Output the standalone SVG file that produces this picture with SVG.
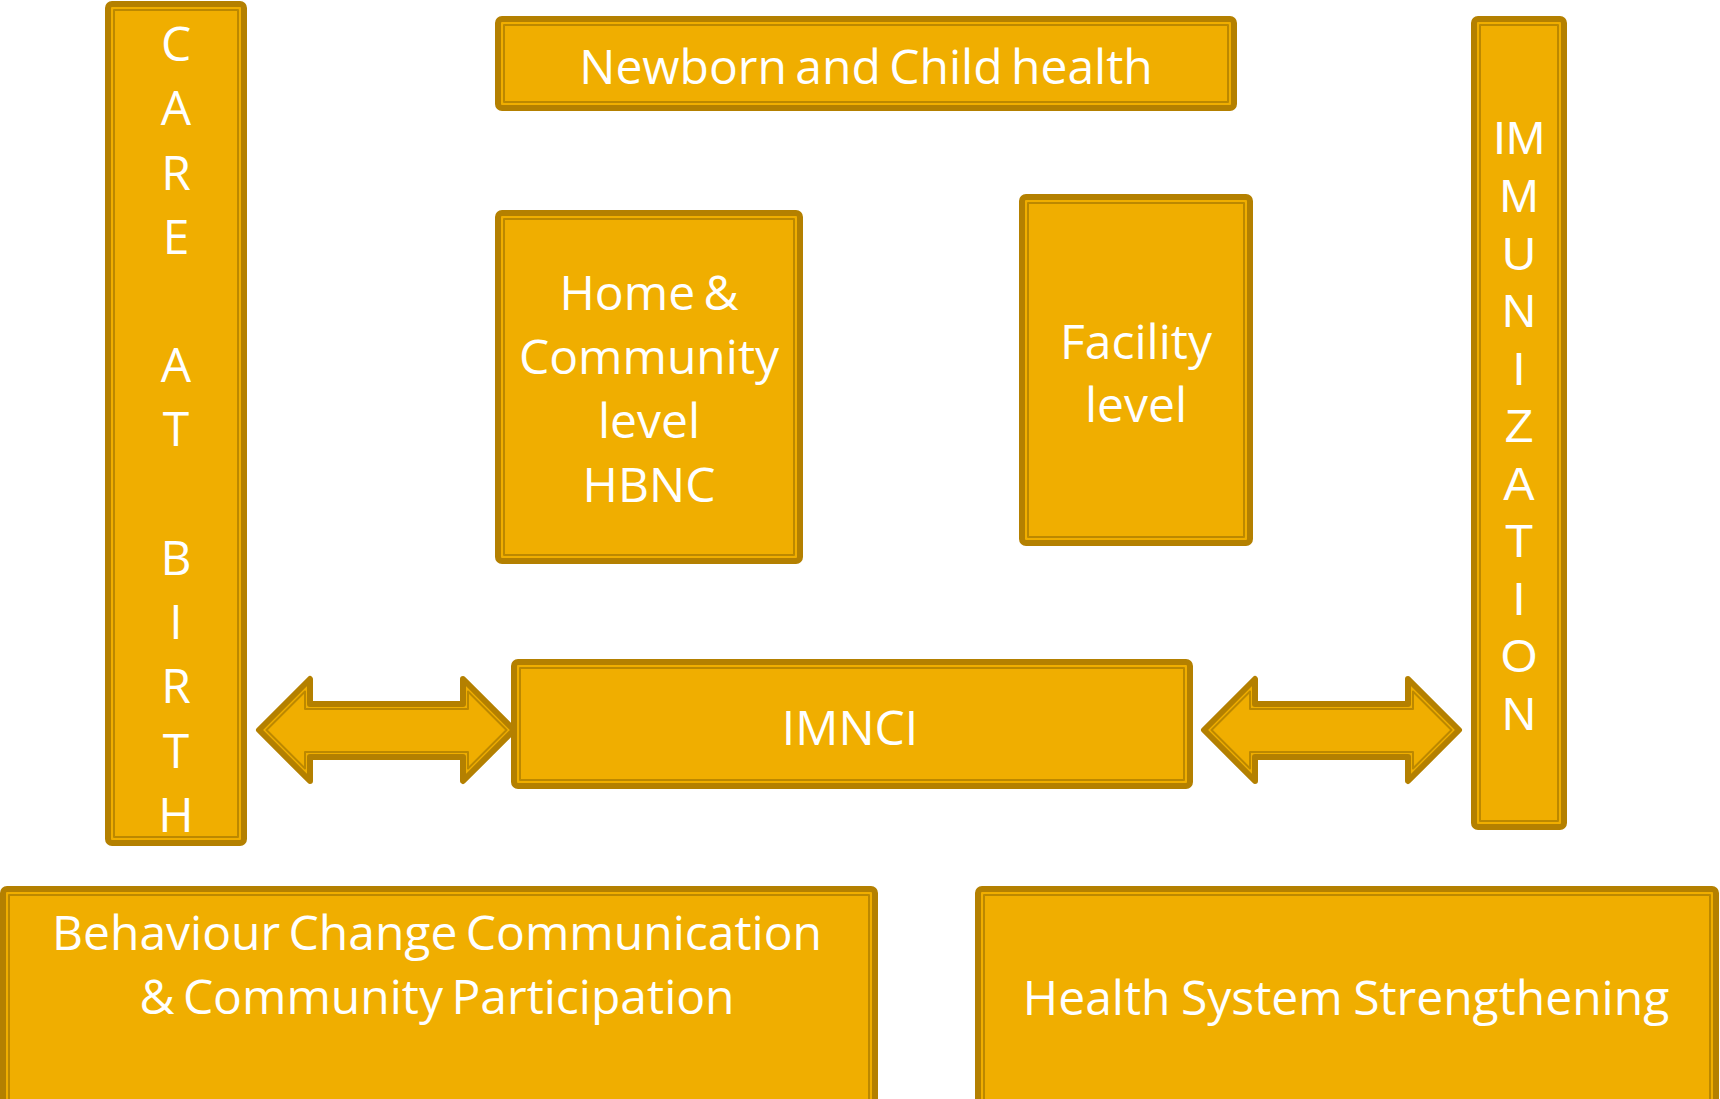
<svg xmlns="http://www.w3.org/2000/svg" width="1720" height="1099" viewBox="0 0 1720 1099">
<defs>
<style>
.o{fill:#F0AE00;stroke:#B48000;stroke-width:6;stroke-linejoin:round}
.i{fill:none;stroke:#BC8800;stroke-width:2;stroke-linejoin:round}
.t{fill:#FFFFFF;font-family:"Open Sans","Noto Sans",sans-serif;font-size:48px;text-anchor:middle}
.c{font-family:"Liberation Sans",Arial,sans-serif;font-size:47px}
.w{word-spacing:-4px}
</style>
<path id="arrow" d="M259,730 L310,679 L310,704 L463,704 L463,679 L514,730 L463,781 L463,757 L310,757 L310,781 Z"/>
<path id="arrowIn" d="M266.5,730 L305,691.5 L305,709 L468,709 L468,691.5 L506.5,730 L468,768.5 L468,752 L305,752 L305,768.5 Z"/>
</defs>
<rect width="1720" height="1099" fill="#FFFFFF"/>
<g id="connectors">
<g id="arrow-left"><use href="#arrow" class="o"/><use href="#arrowIn" class="i"/></g>
<g id="arrow-right" transform="translate(945,0)"><use href="#arrow" class="o"/><use href="#arrowIn" class="i"/></g>
</g>
<g id="care-at-birth">
<rect class="o" x="108" y="4" width="136" height="839" rx="4"/>
<rect class="i" x="114" y="10" width="124" height="827"/>
<text class="t"><tspan x="176" y="61">C</tspan><tspan x="176" y="125">A</tspan><tspan x="176" y="190">R</tspan><tspan x="176" y="254">E</tspan><tspan x="176" y="382">A</tspan><tspan x="176" y="446">T</tspan><tspan x="176" y="575">B</tspan><tspan x="176" y="639">I</tspan><tspan x="176" y="703">R</tspan><tspan x="176" y="768">T</tspan><tspan x="176" y="832">H</tspan></text>
</g>
<g id="newborn">
<rect class="o" x="498" y="19" width="736" height="89" rx="4"/>
<rect class="i" x="504" y="25" width="724" height="77"/>
<text class="t w" x="866" y="84">Newborn and Child health</text>
</g>
<g id="immunization">
<rect class="o" x="1474" y="19" width="90" height="808" rx="4"/>
<rect class="i" x="1480" y="25" width="78" height="796"/>
<text class="t c"><tspan x="1519" y="154">IM</tspan><tspan x="1519" y="212">M</tspan><tspan x="1519" y="270">U</tspan><tspan x="1519" y="327">N</tspan><tspan x="1519" y="385">I</tspan><tspan x="1519" y="442">Z</tspan><tspan x="1519" y="500">A</tspan><tspan x="1519" y="557">T</tspan><tspan x="1519" y="615">I</tspan><tspan x="1519" y="672">O</tspan><tspan x="1519" y="730">N</tspan></text>
</g>
<g id="home-community">
<rect class="o" x="498" y="213" width="302" height="348" rx="4"/>
<rect class="i" x="504" y="219" width="290" height="336"/>
<text class="t"><tspan class="w" x="649" y="310">Home &amp;</tspan><tspan x="649" y="374">Community</tspan><tspan x="649" y="438">level</tspan><tspan x="649" y="502">HBNC</tspan></text>
</g>
<g id="facility">
<rect class="o" x="1022" y="197" width="228" height="346" rx="4"/>
<rect class="i" x="1028" y="203" width="216" height="334"/>
<text class="t"><tspan x="1136" y="359">Facility</tspan><tspan x="1136" y="422">level</tspan></text>
</g>
<g id="imnci">
<rect class="o" x="514" y="662" width="676" height="124" rx="4"/>
<rect class="i" x="520" y="668" width="664" height="112"/>
<text class="t" x="850" y="745">IMNCI</text>
</g>
<g id="bcc">
<rect class="o" x="3" y="889" width="872" height="220" rx="4"/>
<rect class="i" x="9" y="895" width="860" height="208"/>
<text class="t w"><tspan x="437" y="950">Behaviour Change Communication</tspan><tspan x="437" y="1014">&amp; Community Participation</tspan></text>
</g>
<g id="hss">
<rect class="o" x="978" y="889" width="738" height="220" rx="4"/>
<rect class="i" x="984" y="895" width="726" height="208"/>
<text class="t" x="1346" y="1015" word-spacing="-2">Health System Strengthening</text>
</g>
</svg>
